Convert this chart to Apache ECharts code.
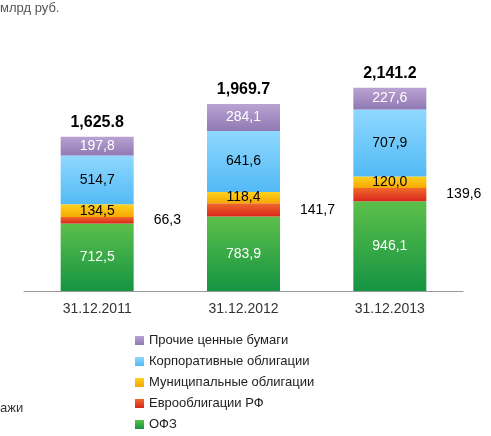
<!DOCTYPE html><html><head><meta charset="utf-8"><script src="https://cdn.jsdelivr.net/npm/echarts@6/dist/echarts.min.js"></script></head><body style="margin:0"><div id="c" style="width:491px;height:436px"></div><script>
const categories=['31.12.2011','31.12.2012','31.12.2013'];
const ofz=[712.5,783.9,946.1];
const euro=[66.3,141.7,139.6];
const muni=[134.5,118.4,120.0];
const corp=[514.7,641.6,707.9];
const other=[197.8,284.1,227.6];
const totals=['1,625.8','1,969.7','2,141.2'];
const names=['ОФЗ','Еврооблигации РФ','Муниципальные облигации','Корпоративные облигации','Прочие ценные бумаги'];
const fmt=p=>String(p.value).includes('.')?String(p.value).replace('.',','):p.value.toFixed(1).replace('.',',');
const g=(a,b)=>new echarts.graphic.LinearGradient(0,0,0,1,[{offset:0,color:a},{offset:1,color:b}]);
const lbl=(c)=>({show:true,position:'inside',color:c,fontSize:14,fontFamily:'Liberation Sans',formatter:fmt});
const mk=(name,data,color,lc,extra)=>Object.assign({name,type:'bar',stack:'s',barWidth:73,data,itemStyle:{color},label:lbl(lc)},extra||{});
const ch=echarts.init(document.getElementById('c'));
ch.setOption({animation:false,
graphic:[{type:'text',left:0,top:2,style:{text:'млрд руб.',fill:'#555',font:'13px Liberation Sans'}},
{type:'text',left:0,top:402,style:{text:'ажи',fill:'#333',font:'13px Liberation Sans'}}],
grid:{left:24,right:28,top:30,bottom:145},
xAxis:{type:'category',data:categories,axisTick:{show:false},axisLine:{lineStyle:{color:'#999'}},axisLabel:{fontSize:14,color:'#333',margin:11,fontFamily:'Liberation Sans'}},
yAxis:{type:'value',min:0,max:2750,show:false},
legend:{orient:'vertical',left:130,top:329,itemWidth:9,itemHeight:9,itemGap:8,icon:'rect',textStyle:{fontSize:13,color:'#222',fontFamily:'Liberation Sans'},data:names.slice().reverse()},
series:[
mk(names[0],ofz,g('#5cbf4a','#159443'),'#fff'),
mk(names[1],euro,g('#f06a2a','#d9261c'),'#000',{label:Object.assign(lbl('#000'),{position:'right',distance:20})}),
mk(names[2],muni,g('#ffd21f','#f5a800'),'#000'),
mk(names[3],corp,g('#8fd8ff','#52baf5'),'#000'),
mk(names[4],other,g('#b9a3d2','#9079b3'),'#fff'),
{name:'total',type:'bar',stack:'s',barWidth:73,data:[0,0,0],label:{show:true,position:'top',distance:6,fontSize:16,fontWeight:'bold',color:'#000',fontFamily:'Liberation Sans',formatter:p=>totals[p.dataIndex]}}
]});
</script></body></html>
